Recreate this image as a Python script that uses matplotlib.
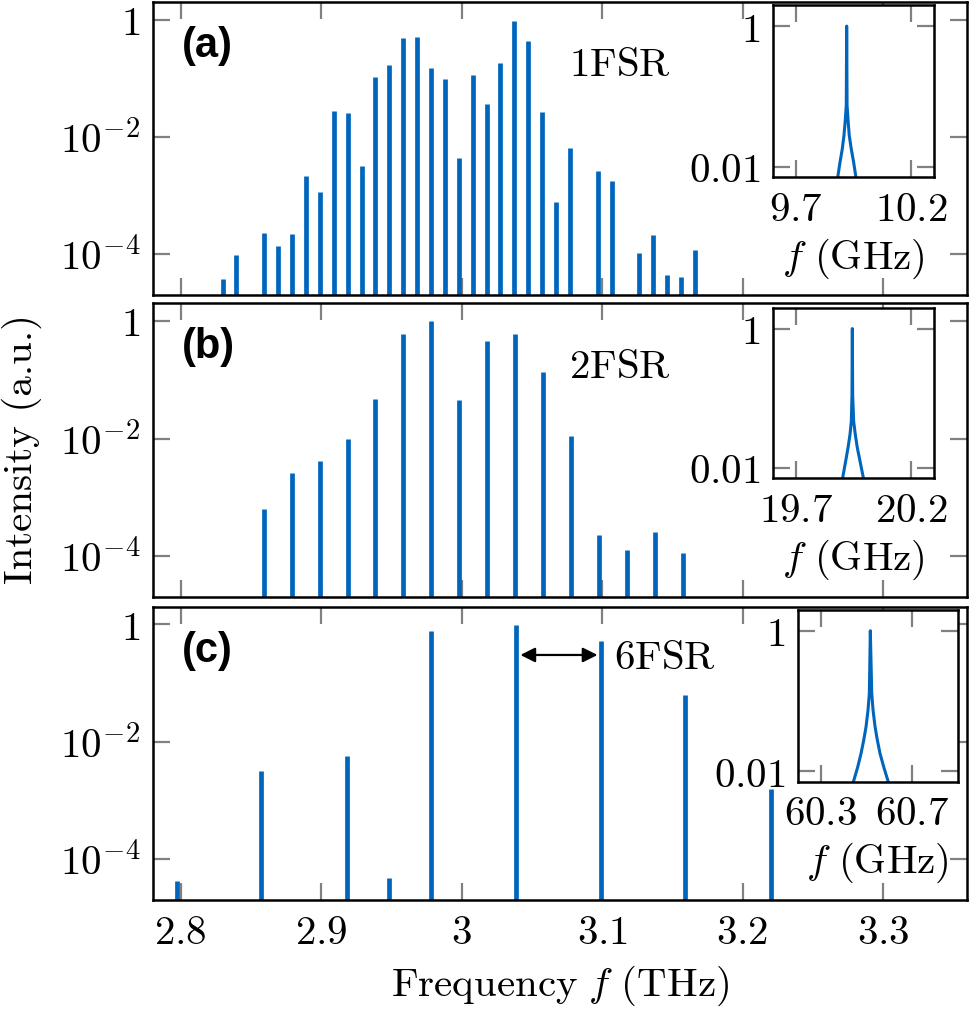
import numpy as np
import matplotlib
matplotlib.use("Agg")
import matplotlib.pyplot as plt

plt.rcParams['mathtext.fontset'] = 'cm'
plt.rcParams['font.family'] = 'serif'
plt.rcParams['font.serif'] = ['DejaVu Serif']

# ---- data ----
# (a) 1FSR comb, frequency in THz, log10 of intensity
freq_a = [2.8299, 2.8395, 2.8595, 2.8694, 2.8792, 2.8891, 2.8990, 2.9091,
          2.9190, 2.9289, 2.9385, 2.9484, 2.9585, 2.9684, 2.9782, 2.9881,
          2.9980, 3.0078, 3.0177, 3.0276, 3.0375, 3.0473, 3.0572, 3.0671,
          3.0772, 3.0972, 3.1068, 3.1266, 3.1365, 3.1463, 3.1562, 3.1661]
logI_a = [-4.44, -4.03, -3.64, -3.86, -3.66, -2.68, -2.94, -1.57,
          -1.59, -2.50, -0.98, -0.77, -0.31, -0.30, -0.82, -1.02,
          -2.37, -0.95, -1.45, -0.75, -0.02, -0.36, -1.58, -3.12,
          -2.20, -2.58, -2.75, -3.98, -3.68, -4.37, -4.39, -3.93]

# (b) 2FSR comb
freq_b = [2.8590, 2.8790, 2.8990, 2.9187, 2.9385, 2.9585, 2.9785, 2.9982,
          3.0180, 3.0377, 3.0580, 3.0777, 3.0977, 3.1175, 3.1375, 3.1575]
logI_b = [-3.19, -2.58, -2.38, -2.01, -1.32, -0.23, 0.0, -1.34,
          -0.34, -0.22, -0.86, -1.96, -3.64, -3.90, -3.59, -3.94]

# (c) 6FSR comb
freq_c = [2.797, 2.857, 2.918, 2.948, 2.978, 3.039, 3.099, 3.159, 3.220]
logI_c = [-4.37, -2.50, -2.24, -4.32, -0.11, -0.01, -0.28, -1.21, -2.81]

# insets: single resonance line, GHz vs log10 intensity
ins_f_a = [9.8818, 9.8918, 9.9018, 9.9092, 9.9149, 9.9193, 9.9210,
           9.9228, 9.9271, 9.9323, 9.9411, 9.9515, 9.9616]
ins_L_a = [-2.158, -1.942, -1.750, -1.558, -1.342, -1.127, 0.0,
           -1.127, -1.342, -1.558, -1.750, -1.942, -2.158]
ins_f_b = [19.9036, 19.9166, 19.9267, 19.9354, 19.9412, 19.9441, 19.9456,
           19.9470, 19.9514, 19.9586, 19.9673, 19.9790, 19.9934]
ins_L_b = [-2.143, -1.905, -1.714, -1.524, -1.334, -0.953, 0.0,
           -0.953, -1.334, -1.524, -1.714, -1.905, -2.143]
ins_f_c = [60.4428, 60.4620, 60.4764, 60.4882, 60.4983, 60.5070, 60.5127, 60.5170,
           60.5231, 60.5288, 60.5376, 60.5476, 60.5594, 60.5755, 60.5956]
ins_L_c = [-2.158, -1.942, -1.751, -1.560, -1.368, -1.129, -0.890, 0.0,
           -0.890, -1.129, -1.368, -1.560, -1.751, -1.942, -2.158]

labels = ['(a)', '(b)', '(c)']
fsr_text = [r'$\mathrm{1FSR}$', r'$\mathrm{2FSR}$', r'$\mathrm{6FSR}$']
ins_xticks = [[9.7, 10.2], [19.7, 20.2], [60.3, 60.7]]
ins_xlim = [(9.6, 10.3), (19.6, 20.3), (60.2, 60.9)]

blue = '#0066bd'
grey = '#808080'
fs = 29.5

fig = plt.figure(figsize=(9.7, 10.11), dpi=100)
W, H = 970.0, 1011.0
main_rects = [(152.7, 2, 967.3, 294.7), (152.7, 303.3, 967.3, 597.3), (152.7, 606.7, 967.3, 900)]
ins_rects = [(772.7, 5, 934, 177.3), (772.7, 307.7, 934, 478.3), (797.6, 609.7, 958.2, 781.6)]

combs = [(freq_a, logI_a), (freq_b, logI_b), (freq_c, logI_c)]
insets = [(ins_f_a, ins_L_a), (ins_f_b, ins_L_b), (ins_f_c, ins_L_c)]

def style(ax):
    for s in ax.spines.values():
        s.set_linewidth(1.8)
    ax.tick_params(which='major', direction='in', length=12, width=1.6,
                   color=grey, top=True, right=True, labelsize=fs, pad=9)
    ax.tick_params(which='minor', length=0)

for i in range(3):
    x0, y0, x1, y1 = main_rects[i]
    ax = fig.add_axes([x0 / W, 1 - y1 / H, (x1 - x0) / W, (y1 - y0) / H])
    f, L = combs[i]
    I = 10 ** np.array(L)
    ax.vlines(f, 1e-8, I, colors=blue, linewidth=3.4, capstyle='butt')
    ax.set_yscale('log')
    ax.set_ylim(10 ** -4.7, 10 ** 0.3)
    ax.set_xlim(2.78, 3.36)
    ax.set_yticks([1, 1e-2, 1e-4])
    ax.set_yticklabels([r'$1$', r'$10^{-2}$', r'$10^{-4}$'])
    ax.set_xticks([2.8, 2.9, 3.0, 3.1, 3.2, 3.3])
    style(ax)
    if i < 2:
        ax.set_xticklabels([])
    else:
        ax.set_xticklabels([r'$2.8$', r'$2.9$', r'$3$', r'$3.1$', r'$3.2$', r'$3.3$'])
        ax.set_xlabel(r'$\mathrm{Frequency}\ f\ \mathrm{(THz)}$', fontsize=fs, labelpad=8)
    ax.text(0.036, 0.85, labels[i], transform=ax.transAxes, fontsize=30,
            fontweight='bold', family='Liberation Sans', ha='left', va='center')
    if i < 2:
        ax.text(0.511, 0.747, fsr_text[i], transform=ax.transAxes, fontsize=fs,
                ha='left', va='baseline')
    else:
        ax.text(0.566, 0.788, fsr_text[i], transform=ax.transAxes, fontsize=fs,
                ha='left', va='baseline')
        ax.annotate('', xy=(3.0967, 0.30), xytext=(3.0418, 0.30),
                    arrowprops=dict(arrowstyle='<|-|>', color='black', lw=1.6,
                                    mutation_scale=22, shrinkA=0, shrinkB=0))

    # inset
    x0, y0, x1, y1 = ins_rects[i]
    ia = fig.add_axes([x0 / W, 1 - y1 / H, (x1 - x0) / W, (y1 - y0) / H])
    g, M = insets[i]
    ia.plot(g, 10 ** np.array(M), color=blue, lw=2.2)
    ia.set_yscale('log')
    ia.set_ylim(10 ** -2.15, 10 ** 0.3)
    ia.set_xlim(*ins_xlim[i])
    ia.set_yticks([1, 0.01])
    ia.set_yticklabels([r'$1$', r'$0.01$'])
    ia.set_xticks(ins_xticks[i])
    ia.set_xticklabels([r'$%g$' % v for v in ins_xticks[i]])
    style(ia)
    ia.set_xlabel(r'$f\ \mathrm{(GHz)}$', fontsize=fs, labelpad=5)

fig.text(0.022, 0.556, 'Intensity (a.u.)', family='cmr10', rotation=90, fontsize=fs,
         ha='center', va='center')

fig.savefig('out.png', dpi=100)
